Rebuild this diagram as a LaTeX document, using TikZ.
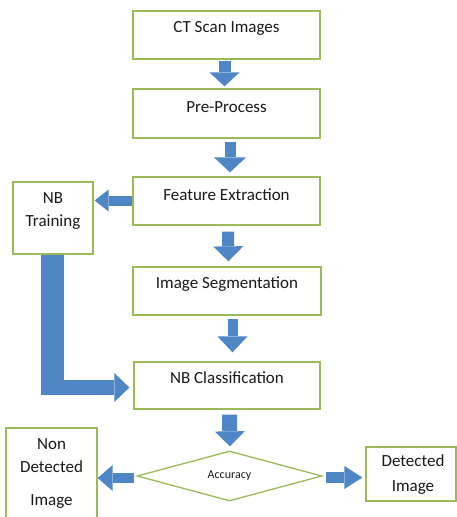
\documentclass[tikz,border=0pt]{standalone}
\usepackage{fontspec}
\setmainfont{Carlito}
\usetikzlibrary{arrows.meta,shapes.geometric,calc}
\definecolor{boxgreen}{RGB}{155,187,89}
\definecolor{arrowblue}{RGB}{79,134,198}
\definecolor{txtgray}{RGB}{25,25,25}
\tikzset{
  box/.style={draw=boxgreen, line width=1.3pt, fill=white, inner sep=0pt},
  txt/.style={font=\fontsize{17}{23}\selectfont, text=txtgray, align=center, inner sep=0pt},
  blk/.style={draw=arrowblue, line width=#1},
  tip/.style 2 args={-{Triangle[width=#1,length=#2,line width=0pt]}}
}
\begin{document}
\begin{tikzpicture}[x=1pt,y=-1pt]
\useasboundingbox (0,0) rectangle (457,517);
\clip (0,0) rectangle (457,517);
\fill[white] (0,0) rectangle (457,517);

% boxes
\node[box, minimum width=187pt, minimum height=48pt,
  label={[txt,yshift=7pt]center:CT Scan Images}] (ct) at (226.5,35) {};
\node[box, minimum width=187pt, minimum height=49pt,
  label={[txt,yshift=6.5pt]center:Pre-Process}] (pre) at (226.5,113.5) {};
\node[box, minimum width=187pt, minimum height=48pt,
  label={[txt,yshift=6pt]center:Feature Extraction}] (feat) at (226.5,201) {};
\node[box, minimum width=188pt, minimum height=48pt,
  label={[txt,yshift=7pt]center:Image Segmentation}] (seg) at (227,291) {};
\node[box, minimum width=186pt, minimum height=47pt,
  label={[txt,yshift=7.5pt]center:NB Classification}] (cls) at (227,385.5) {};
\node[box, minimum width=80pt, minimum height=72pt,
  label={[txt,yshift=6.5pt]center:NB\\Training}] (train) at (53,218) {};
\node[box, shape=diamond, aspect=3.7, minimum width=185pt, minimum height=50pt,
  font=\fontsize{12}{14}\selectfont, text=txtgray] (acc) at (229.5,476) {Accuracy};
\node[box, minimum width=91pt, minimum height=112pt,
  label={[txt,yshift=11pt]center:{Non\\Detected\\[10pt]Image}}] (nondet) at (51.5,484) {};
\node[box, minimum width=90pt, minimum height=54pt,
  label={[txt,xshift=2pt,yshift=-0.5pt]center:{Detected\\[2pt]Image}}] (det) at (411,474) {};

% vertical block arrows
\draw[blk=12pt, tip={30pt}{14pt}, shorten <=1pt, shorten >=2pt]
  ([xshift=-2pt]ct.south) -- ([xshift=-2pt]pre.north);
\draw[blk=11pt, tip={32pt}{15pt}, shorten <=3pt, shorten >=4pt]
  ([xshift=3.5pt]pre.south) -- ([xshift=3.5pt]feat.north);
\draw[blk=12pt, tip={30pt}{15pt}, shorten <=6pt, shorten >=5pt]
  ([xshift=1.5pt]feat.south) -- ([xshift=1.5pt]seg.north);
\draw[blk=10pt, tip={30pt}{16pt}, shorten <=3pt, shorten >=9pt]
  ([xshift=5.5pt]seg.south) -- ([xshift=5.5pt]cls.north);
\draw[blk=15pt, tip={30pt}{15pt}, shorten <=5pt, shorten >=4pt]
  ([xshift=2.5pt]cls.south) -- ([xshift=0.5pt]acc.north);

% feature extraction -> NB training
\coordinate (fx) at ($(feat.west)+(0,-0.5)$);
\draw[blk=10pt, tip={22pt}{14pt}, shorten >=1pt] (fx) -- (fx -| train.east);

% NB training -> NB classification (bent)
\coordinate (bendtop) at ($(train.south)+(-0.5,0)$);
\coordinate (bendlow) at (52.5,395);
\draw[blk=23pt] (bendtop) -- (bendlow);
\coordinate (bendout) at (64,387.5);
\draw[blk=15pt, tip={29pt}{15pt}, shorten >=4pt] (bendout) -- (bendout -| cls.west);

% accuracy -> outcomes
\coordinate (al) at ($(acc.west)+(0,2)$);
\draw[blk=10pt, tip={26pt}{15pt}, shorten <=2pt] (al) -- (al -| nondet.east);
\coordinate (ar) at ($(acc.east)+(0,1.5)$);
\draw[blk=11pt, tip={23pt}{18pt}, shorten <=3pt, shorten >=3pt] (ar) -- (ar -| det.west);
\end{tikzpicture}
\end{document}
